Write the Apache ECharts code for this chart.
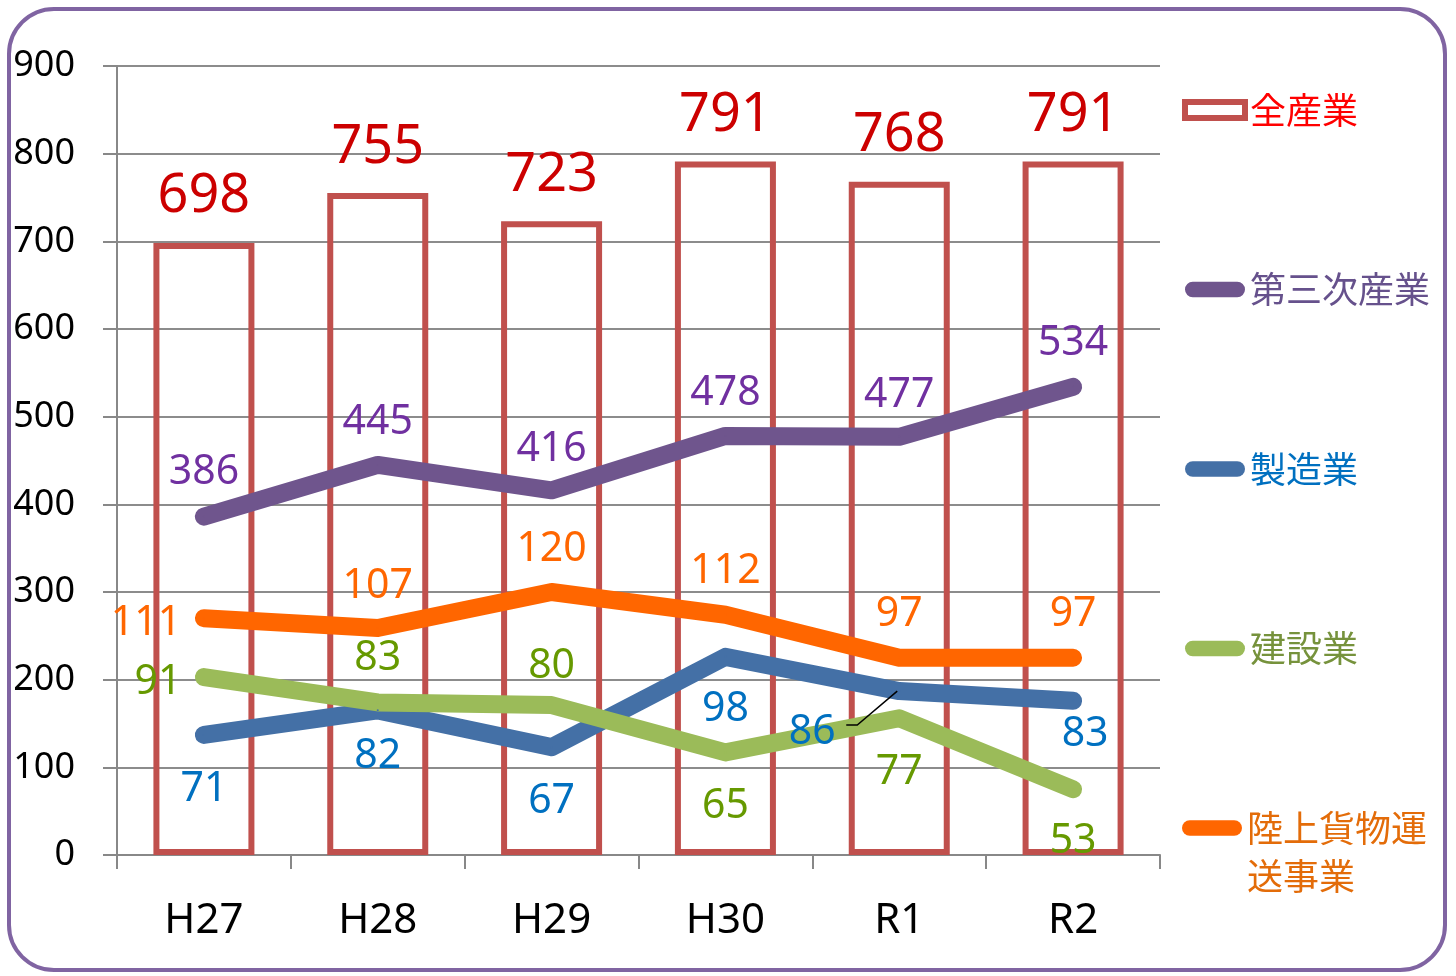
<!DOCTYPE html>
<html>
<head>
<meta charset="utf-8">
<script src="https://cdn.jsdelivr.net/npm/echarts@6/dist/echarts.min.js"></script>
<style>
  html, body { margin: 0; padding: 0; background: #fff; }
  #main { width: 1456px; height: 976px; }
</style>
</head>
<body>
<div id="main"></div>
<script>
// 年度
var years = ['H27', 'H28', 'H29', 'H30', 'R1', 'R2'];
var yTicks = [0, 100, 200, 300, 400, 500, 600, 700, 800, 900];

// 全産業（棒）
var allIndustry = [698, 755, 723, 791, 768, 791];
// 第三次産業
var tertiary = [386, 445, 416, 478, 477, 534];
// 製造業・建設業・陸上貨物運送事業 : 図上の位置と表示ラベル
var manufacturing = [137, 165, 123, 226, 187, 176];
var manufacturingLabels = [71, 82, 67, 98, 86, 83];
var construction = [203, 174, 171, 117, 156, 75];
var constructionLabels = [91, 83, 80, 65, 77, 53];
var freight = [270, 259, 300, 274, 225, 225];
var freightLabels = [111, 107, 120, 112, 97, 97];

var FONT = "'Noto Sans', 'Noto Sans CJK JP', sans-serif";
var CJK = "'Noto Sans CJK JP', sans-serif";

// ラベル位置（点からのずれ）
var offTertiary = [[0, -44], [0, -43], [0, -41], [0, -43], [0, -42], [0, -44]];
var offManuf = [[0, 54], [0, 46], [0, 54], [0, 52], [-87, 41], [12, 34]];
var offConst = [[-46, 5], [0, -44], [0, -39], [0, 54], [0, 54], [0, 52]];
var offFreight = [[-58, 5], [0, -42], [0, -43], [0, -43], [0, -43], [0, -43]];

function lineData (vals, offs) {
    return vals.map(function (v, i) {
        return { value: v, label: { offset: offs[i] } }
    })
}

function lineSeries (name, vals, labels, offs, color, labelColor) {
    return {
        name: name,
        type: 'line',
        data: lineData(vals, offs),
        symbol: 'circle',
        symbolSize: 2,
        itemStyle: { color: color },
        lineStyle: { color: color, width: 18, cap: 'round', join: 'round' },
        label: {
            show: true,
            position: 'inside',
            fontFamily: FONT,
            fontSize: 41,
            color: labelColor,
            formatter: function (p) { return String(labels[p.dataIndex]) }
        },
        emphasis: { disabled: true },
        animation: false
    }
}

var chart = echarts.init(document.getElementById('main'));

var pill = 'path://M8,0 H54 A8,8 0 0 1 54,16 H8 A8,8 0 0 1 8,0 Z';

var option = {
    backgroundColor: '#fff',
    animation: false,
    graphic: [{
        id: 'frame',
        type: 'rect',
        shape: { x: 9, y: 9, width: 1436, height: 961, r: 45 },
        style: { fill: 'none', stroke: '#8064A2', lineWidth: 4 },
        z: 100
    }],
    grid: { left: 117, right: 296, top: 66, bottom: 121 },
    legend: [{
        orient: 'vertical',
        left: 1182,
        top: 86,
        padding: 0,
        itemGap: 131.5,
        itemWidth: 60,
        itemHeight: 16,
        selectedMode: false,
        textStyle: { fontFamily: CJK, fontSize: 36, lineHeight: 48 },
        data: [
            { name: '全産業', icon: 'rect', itemStyle: { color: '#fff', borderColor: '#C0504D', borderWidth: 6 }, textStyle: { color: '#FF0000' } },
            { name: '第三次産業', icon: pill, itemStyle: { color: '#6F558D' }, textStyle: { color: '#66518C' } },
            { name: '製造業', icon: pill, itemStyle: { color: '#4470A6' }, textStyle: { color: '#0070C0' } },
            { name: '建設業', icon: pill, itemStyle: { color: '#9BBB59' }, textStyle: { color: '#76923C' } }
        ]
    }, {
        orient: 'vertical',
        left: 1182,
        top: 756,
        padding: 0,
        itemWidth: 60,
        itemHeight: 16,
        selectedMode: false,
        formatter: function (name) { return ' \n陸上貨物運\n送事業' },
        textStyle: { fontFamily: CJK, fontSize: 36, lineHeight: 48 },
        data: [
            { name: '陸上貨物運送事業', icon: pill, itemStyle: { color: '#FF6600' }, textStyle: { color: '#E36C09' } }
        ]
    }],
    xAxis: {
        type: 'category',
        data: years,
        boundaryGap: true,
        axisLine: { lineStyle: { color: '#888', width: 2 } },
        axisTick: { show: true, length: 14, lineStyle: { color: '#888', width: 2 } },
        axisLabel: { color: '#000', fontFamily: FONT, fontSize: 42, margin: 45 }
    },
    yAxis: {
        type: 'value',
        min: yTicks[0],
        max: yTicks[yTicks.length - 1],
        interval: 100,
        axisLine: { show: true, lineStyle: { color: '#888', width: 2 } },
        axisTick: { show: true, length: 14, lineStyle: { color: '#888', width: 2 } },
        splitLine: { lineStyle: { color: '#8c8c8c', width: 2 } },
        axisLabel: { color: '#000', fontFamily: FONT, fontSize: 36, margin: 42 }
    },
    series: [
        {
            name: '全産業',
            type: 'bar',
            data: allIndustry,
            barWidth: 101,
            itemStyle: { color: 'rgba(0,0,0,0)', borderColor: '#C0504D', borderWidth: 6 },
            label: {
                show: true,
                position: 'top',
                distance: 19,
                fontFamily: FONT,
                fontSize: 54,
                color: '#CC0000'
            },
            emphasis: { disabled: true }
        },
        lineSeries('第三次産業', tertiary, tertiary, offTertiary, '#6F558D', '#7030A0'),
        lineSeries('製造業', manufacturing, manufacturingLabels, offManuf, '#4470A6', '#0070C0'),
        lineSeries('建設業', construction, constructionLabels, offConst, '#9BBB59', '#669900'),
        lineSeries('陸上貨物運送事業', freight, freightLabels, offFreight, '#FF6600', '#FF6600')
    ]
};

chart.setOption(option);

// 製造業 R1 の引き出し線
var p = chart.convertToPixel({ seriesIndex: 2 }, ['R1', manufacturing[4]]);
chart.setOption({
    graphic: [{
        id: 'leader',
        type: 'polyline',
        shape: { points: [[p[0] - 2, p[1]], [p[0] - 42, p[1] + 34], [p[0] - 53, p[1] + 34]] },
        style: { fill: 'none', stroke: '#000', lineWidth: 1.5 },
        z: 50
    }]
});
</script>
</body>
</html>
